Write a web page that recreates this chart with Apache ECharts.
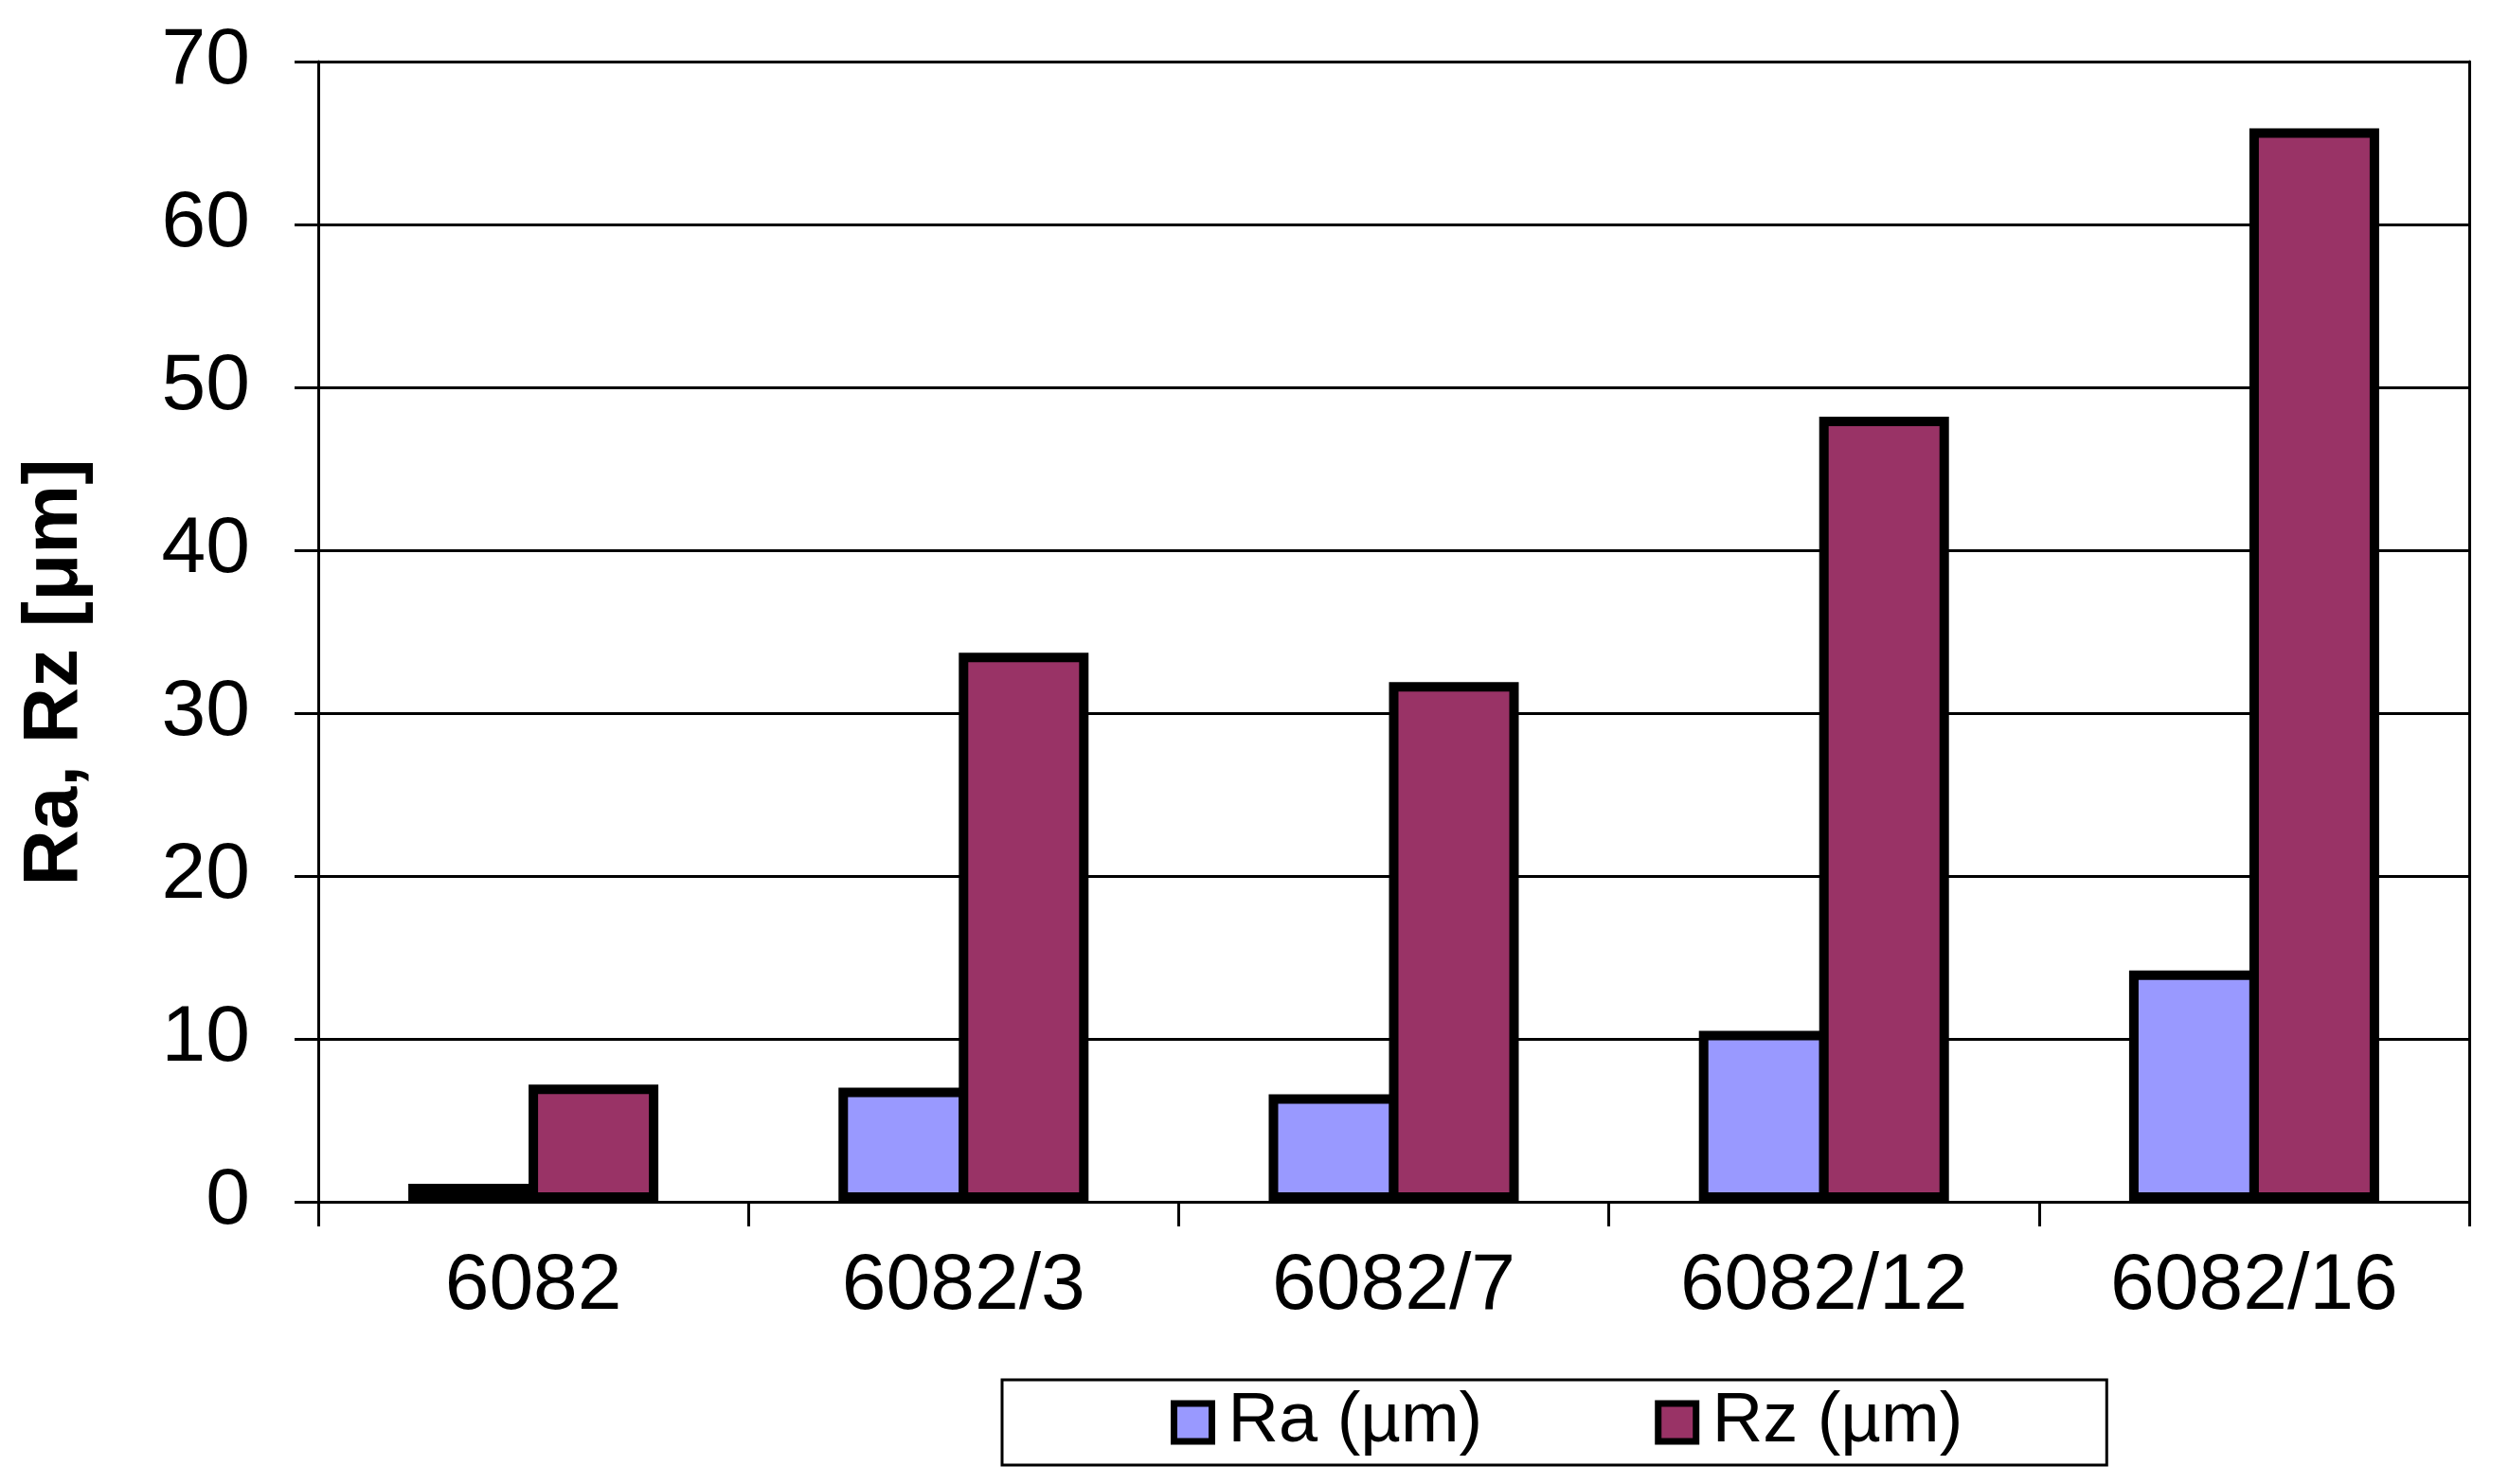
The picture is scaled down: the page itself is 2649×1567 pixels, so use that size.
<!DOCTYPE html>
<html>
<head>
<meta charset="utf-8">
<script src="https://cdn.jsdelivr.net/npm/echarts@6/dist/echarts.min.js"></script>
<style>
  html, body { margin: 0; padding: 0; background: #fff; }
  #chart { width: 2649px; height: 1567px; }
</style>
</head>
<body>
<div id="chart"></div>
<script>
// data
const categories = ['6082', '6082/3', '6082/7', '6082/12', '6082/16'];
const raValues = [1.1, 7.0, 6.6, 10.5, 14.2];
const rzValues = [7.2, 33.7, 31.9, 48.2, 65.9];
const yMin = 0;
const yMax = 70;
const yStep = 10;
const seriesNames = ['Ra (µm)', 'Rz (µm)'];

const font = '"Liberation Sans", Arial, sans-serif';
const chart = echarts.init(document.getElementById('chart'));

// echarts draws the bar border inside the bar, so bars overlap by one border width
const barW = 137;
const borderW = 10;

const option = {
  backgroundColor: '#fff',
  animation: false,
  color: ['#9999ff', '#993366'],
  grid: { left: 336, right: 42, top: 65, bottom: 298 },
  legend: {
    data: seriesNames,
    left: 1058,
    top: 1457,
    orient: 'horizontal',
    padding: [8, 152, 8, 178],
    borderColor: '#000',
    borderWidth: 3,
    itemGap: 182,
    itemWidth: 40,
    itemHeight: 40,
    icon: 'rect',
    itemStyle: { borderColor: '#000', borderWidth: 7 },
    textStyle: { fontFamily: font, fontSize: 74, color: '#000', padding: [0, 0, 0, 12] }
  },
  xAxis: {
    type: 'category',
    data: categories,
    axisLine: { lineStyle: { color: '#000', width: 3 } },
    axisTick: { show: true, interval: 0, length: 26, lineStyle: { color: '#000', width: 3 } },
    axisLabel: { interval: 0, margin: 48, fontFamily: font, fontSize: 84, color: '#000' }
  },
  yAxis: [
    {
      type: 'value',
      min: yMin,
      max: yMax,
      interval: yStep,
      axisLine: { show: true, lineStyle: { color: '#000', width: 3 } },
      axisTick: { show: true, length: 25, lineStyle: { color: '#000', width: 3 } },
      axisLabel: { margin: 72, fontFamily: font, fontSize: 84, color: '#000' },
      splitLine: { show: true, lineStyle: { color: '#000', width: 3 } }
    },
    {
      type: 'value',
      position: 'right',
      min: yMin,
      max: yMax,
      interval: yStep,
      axisLine: { show: true, lineStyle: { color: '#000', width: 3 } },
      axisTick: { show: false },
      axisLabel: { show: false },
      splitLine: { show: false }
    }
  ],
  graphic: [
    {
      type: 'text',
      x: 58,
      y: 710,
      rotation: Math.PI / 2,
      style: {
        text: 'Ra, Rz [μm]',
        font: 'bold 82px ' + font,
        fill: '#000',
        align: 'center',
        verticalAlign: 'middle'
      }
    }
  ],
  series: [
    {
      name: seriesNames[0],
      type: 'bar',
      data: raValues,
      barWidth: barW,
      barGap: (-borderW / barW * 100).toFixed(2) + '%',
      itemStyle: { borderColor: '#000', borderWidth: borderW }
    },
    {
      name: seriesNames[1],
      type: 'bar',
      data: rzValues,
      barWidth: barW,
      itemStyle: { borderColor: '#000', borderWidth: borderW }
    }
  ]
};

chart.setOption(option);
</script>
</body>
</html>
